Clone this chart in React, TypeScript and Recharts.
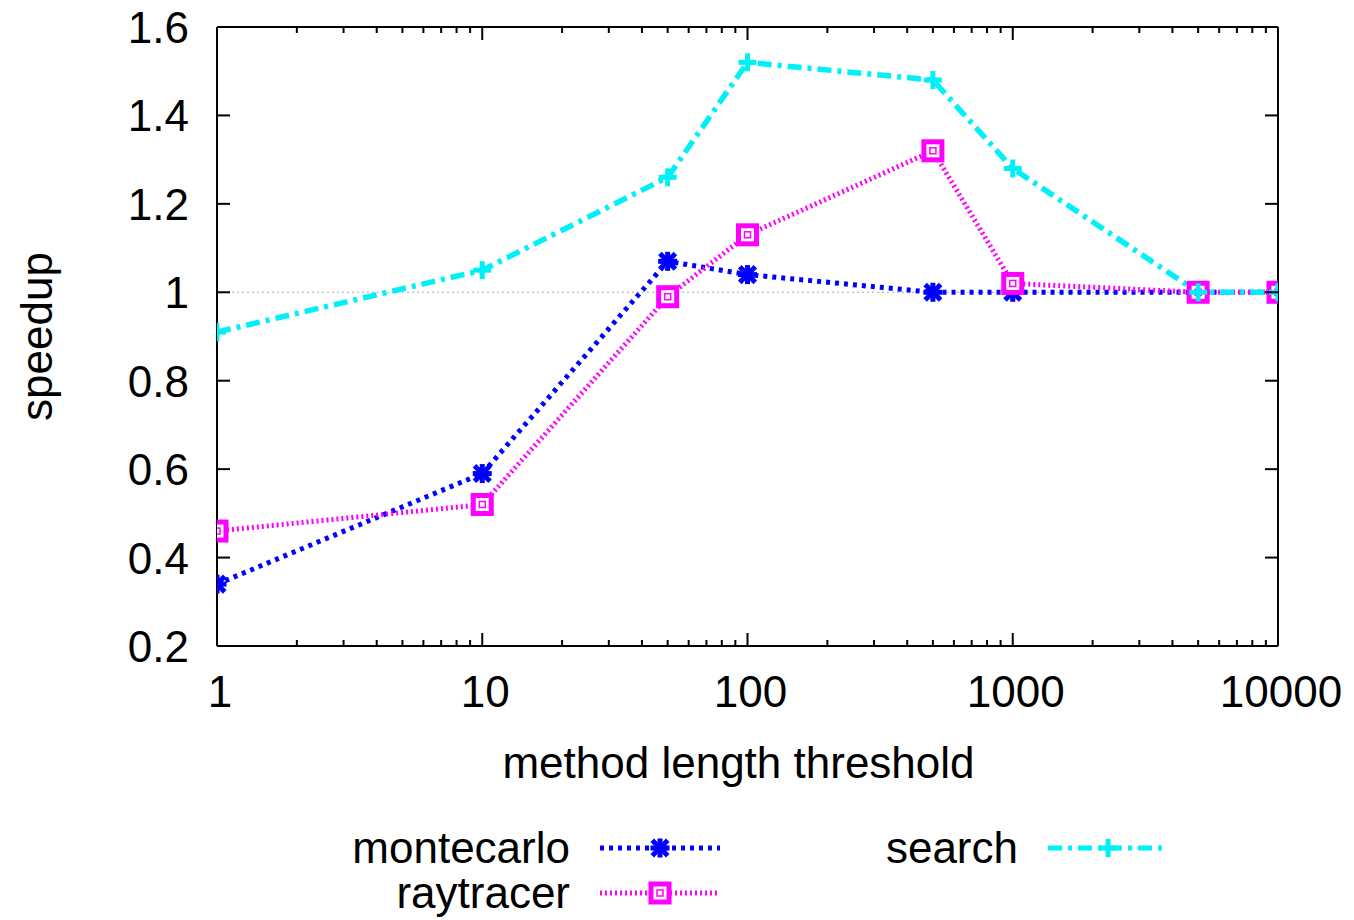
import React from "react";
import { LineChart, Line, XAxis, YAxis, ReferenceLine, Legend } from "recharts";

const thresholds = [1, 10, 50, 100, 500, 1000, 5000, 10000];
const montecarlo = [0.34, 0.59, 1.07, 1.04, 1.0, 1.0, 1.0, 1.0];
const raytracer = [0.46, 0.52, 0.99, 1.13, 1.32, 1.02, 1.0, 1.0];
const search = [0.91, 1.05, 1.26, 1.52, 1.48, 1.28, 1.0, 1.0];

const yTicks = [0.2, 0.4, 0.6, 0.8, 1, 1.2, 1.4, 1.6];
const xMajor = [1, 10, 100, 1000, 10000];
const xTicks = [
  1, 2, 3, 4, 5, 6, 7, 8, 9,
  10, 20, 30, 40, 50, 60, 70, 80, 90,
  100, 200, 300, 400, 500, 600, 700, 800, 900,
  1000, 2000, 3000, 4000, 5000, 6000, 7000, 8000, 9000,
  10000,
];

const data = thresholds.map((x, i) => ({
  x,
  montecarlo: montecarlo[i],
  raytracer: raytracer[i],
  search: search[i],
}));

const FONT = "'Liberation Sans', Arial, Helvetica, sans-serif";
const FS = 44;
const BLUE = "#0000ff";
const MAGENTA = "#ff00ff";
const CYAN = "#00f0f8";

const starMark = (cx: number, cy: number, color: string) => (
  <g stroke={color} strokeWidth={5} strokeLinecap="square">
    <line x1={cx - 6} y1={cy - 6} x2={cx + 6} y2={cy + 6} />
    <line x1={cx - 6} y1={cy + 6} x2={cx + 6} y2={cy - 6} />
    <line x1={cx - 7} y1={cy} x2={cx + 7} y2={cy} />
    <line x1={cx} y1={cy - 7} x2={cx} y2={cy + 7} />
  </g>
);
const squareMark = (cx: number, cy: number, color: string) => (
  <g>
    <rect x={cx - 9} y={cy - 9} width={18} height={18} fill="#fff" stroke={color} strokeWidth={5} />
    <rect x={cx - 3} y={cy - 3} width={6} height={6} fill="none" stroke={color} strokeWidth={1.5} />
  </g>
);
const plusMark = (cx: number, cy: number, color: string) => (
  <g stroke={color} strokeWidth={5}>
    <line x1={cx - 9} y1={cy} x2={cx + 9} y2={cy} />
    <line x1={cx} y1={cy - 9} x2={cx} y2={cy + 9} />
  </g>
);

const dotRenderer = (mark: typeof starMark, color: string) => (props: any) => {
  const { cx, cy, index } = props;
  if (cx == null || cy == null) return <g key={index} />;
  return <g key={index}>{mark(cx, cy, color)}</g>;
};

const BottomTick = (props: any) => {
  const { x, y, payload } = props;
  const major = xMajor.includes(payload.value);
  return (
    <g>
      <line x1={x} y1={y} x2={x} y2={y - (major ? 13 : 6)} stroke="#000" strokeWidth={2} />
      {major && (
        <text x={x + 3} y={y + 61} textAnchor="middle" fontSize={FS} fontFamily={FONT} fill="#000">
          {payload.value}
        </text>
      )}
    </g>
  );
};
const TopTick = (props: any) => {
  const { x, y, payload } = props;
  const major = xMajor.includes(payload.value);
  return <line x1={x} y1={y} x2={x} y2={y + (major ? 13 : 6)} stroke="#000" strokeWidth={2} />;
};
const LeftTick = (props: any) => {
  const { x, y, payload } = props;
  return (
    <g>
      <line x1={x} y1={y} x2={x + 13} y2={y} stroke="#000" strokeWidth={2} />
      <text x={x - 28} y={y + 16} textAnchor="end" fontSize={FS} fontFamily={FONT} fill="#000">
        {payload.value}
      </text>
    </g>
  );
};
const RightTick = (props: any) => {
  const { x, y } = props;
  return <line x1={x} y1={y} x2={x - 13} y2={y} stroke="#000" strokeWidth={2} />;
};

const legendItems = [
  { name: "montecarlo", color: BLUE, dash: "4 5", width: 5, mark: starMark, tx: 570, ty: 848 },
  { name: "raytracer", color: MAGENTA, dash: "2 3", width: 5, mark: squareMark, tx: 570, ty: 893 },
  { name: "search", color: CYAN, dash: "14 6 4 6", width: 5, mark: plusMark, tx: 1018, ty: 848 },
];

const LegendBox = () => (
  <svg width={1354} height={920} style={{ display: "block" }}>
    {legendItems.map((it) => (
      <g key={it.name}>
        <text x={it.tx} y={it.ty + 15} textAnchor="end" fontSize={FS} fontFamily={FONT} fill="#000">
          {it.name}
        </text>
        <line
          x1={it.tx + 30}
          y1={it.ty}
          x2={it.tx + 150}
          y2={it.ty}
          stroke={it.color}
          strokeWidth={it.width}
          strokeDasharray={it.dash}
        />
        {it.mark(it.tx + 90, it.ty, it.color)}
      </g>
    ))}
  </svg>
);

export default function App() {
  return (
    <div style={{ position: "relative", width: 1354, height: 920 }}>
      <style>{`body{margin:0;background:#fff}`}</style>
      <LineChart
        width={1354}
        height={920}
        data={data}
        margin={{ top: 26, right: 75, bottom: 0, left: 0 }}
      >
        <XAxis
          dataKey="x"
          type="number"
          scale="log"
          domain={[1, 10000]}
          ticks={xTicks}
          interval={0}
          height={274}
          tickSize={0}
          tickMargin={0}
          tickLine={false}
          axisLine={{ stroke: "#000", strokeWidth: 2 }}
          tick={<BottomTick />}
          allowDataOverflow
          label={{
            value: "method length threshold",
            position: "insideBottom",
            offset: 142,
            dx: -9,
            style: { fontSize: FS, fontFamily: FONT, fill: "#000" },
          }}
        />
        <XAxis
          xAxisId="top"
          orientation="top"
          dataKey="x"
          type="number"
          scale="log"
          domain={[1, 10000]}
          ticks={xTicks}
          interval={0}
          height={1}
          tickSize={0}
          tickMargin={0}
          tickLine={false}
          axisLine={{ stroke: "#000", strokeWidth: 2 }}
          tick={<TopTick />}
          allowDataOverflow
        />
        <YAxis
          type="number"
          domain={[0.2, 1.6]}
          ticks={yTicks}
          interval={0}
          width={217}
          tickSize={0}
          tickMargin={0}
          tickLine={false}
          axisLine={{ stroke: "#000", strokeWidth: 2 }}
          tick={<LeftTick />}
          allowDataOverflow
          label={{
            value: "speedup",
            angle: -90,
            position: "insideLeft",
            offset: 36,
            style: { fontSize: FS, fontFamily: FONT, fill: "#000", textAnchor: "middle" },
          }}
        />
        <YAxis
          yAxisId="right"
          orientation="right"
          type="number"
          domain={[0.2, 1.6]}
          ticks={yTicks}
          interval={0}
          width={1}
          tickSize={0}
          tickMargin={0}
          tickLine={false}
          axisLine={{ stroke: "#000", strokeWidth: 2 }}
          tick={<RightTick />}
          allowDataOverflow
        />
        <ReferenceLine y={1} stroke="#aaa" strokeWidth={1} strokeDasharray="2 3" />
        <Line
          dataKey="montecarlo"
          stroke={BLUE}
          strokeWidth={5}
          strokeDasharray="4 5"
          dot={dotRenderer(starMark, BLUE)}
          isAnimationActive={false}
        />
        <Line
          dataKey="raytracer"
          stroke={MAGENTA}
          strokeWidth={5}
          strokeDasharray="2 3"
          dot={dotRenderer(squareMark, MAGENTA)}
          isAnimationActive={false}
        />
        <Line
          dataKey="search"
          stroke={CYAN}
          strokeWidth={5.5}
          strokeDasharray="14 6 4 6"
          dot={dotRenderer(plusMark, CYAN)}
          isAnimationActive={false}
        />
        <Line
          xAxisId="top"
          yAxisId="right"
          dataKey="search"
          stroke="none"
          dot={false}
          activeDot={false}
          legendType="none"
          isAnimationActive={false}
        />
        <Legend
          layout="horizontal"
          verticalAlign="middle"
          align="center"
          wrapperStyle={{ position: "absolute", left: 0, top: 0, width: 1354, height: 920, pointerEvents: "none" }}
          content={() => <LegendBox />}
        />
      </LineChart>
    </div>
  );
}
